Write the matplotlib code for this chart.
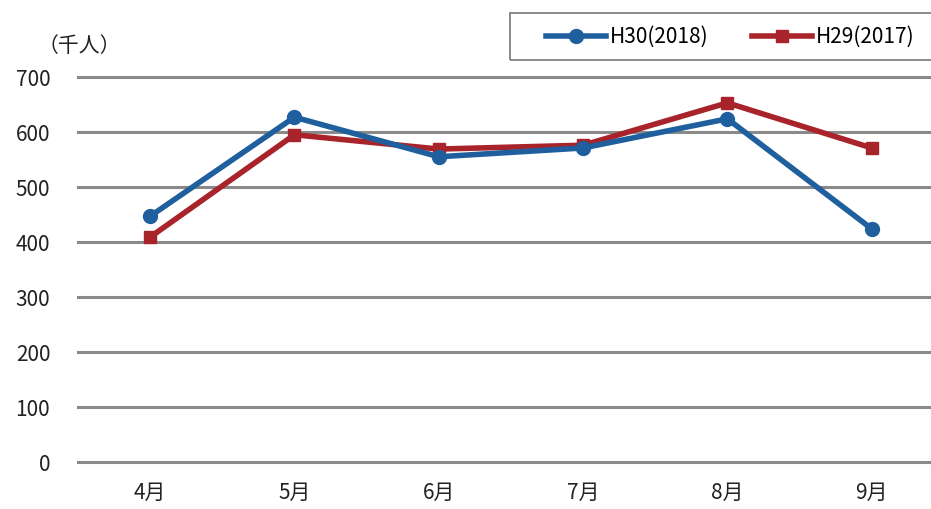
import matplotlib
matplotlib.use("Agg")
import matplotlib.pyplot as plt
from matplotlib.patches import Rectangle

plt.rcParams['font.family'] = ['Noto Sans CJK JP', 'DejaVu Sans']

months = ["4月", "5月", "6月", "7月", "8月", "9月"]
h30 = [447, 627, 555, 571, 624, 424]
h29 = [409, 595, 569, 576, 653, 571]
yticks = [0, 100, 200, 300, 400, 500, 600, 700]

fig = plt.figure(figsize=(9.31, 5.09), dpi=100)
ax = fig.add_axes([0.0838, 0.0923, 0.930, 0.7564])

x = range(len(months))
ax.plot(x, h30, color="#1f5f9e", lw=4, marker="o", ms=10, label="H30(2018)", zorder=3)
ax.plot(x, h29, color="#a8232a", lw=4, marker="s", ms=9, label="H29(2017)", zorder=2)

ax.set_xlim(-0.5, 5.5)
ax.set_ylim(0, 700)
ax.set_yticks(yticks)
ax.set_xticks(list(x))
ax.set_xticklabels(months)
ax.tick_params(length=0, labelsize=15, colors="#222222")
ax.tick_params(axis="y", pad=20)
ax.tick_params(axis="x", pad=14)
ax.grid(axis="y", color="#8a8a8a", lw=2.2)
for gl in ax.get_ygridlines():
    gl.set_clip_on(False)
ax.set_axisbelow(True)
for s in ax.spines.values():
    s.set_visible(False)

fig.text(0.04, 0.91, "（千人）", fontsize=15, ha="left", va="center", color="#222222")

# legend box runs off the right edge like in the source
fig.patches.append(Rectangle((510 / 931, 1 - 60 / 509), 0.5, 47 / 509,
                             transform=fig.transFigure, fill=False,
                             edgecolor="#777777", lw=1.2))
fig.legend(loc="center left", bbox_to_anchor=(546 / 931, 1 - 37 / 509), ncol=2,
           fontsize=15, frameon=False, handlelength=2.9, borderpad=0,
           borderaxespad=0, columnspacing=2.1, handletextpad=0.15)

fig.savefig("out.png", dpi=100)
